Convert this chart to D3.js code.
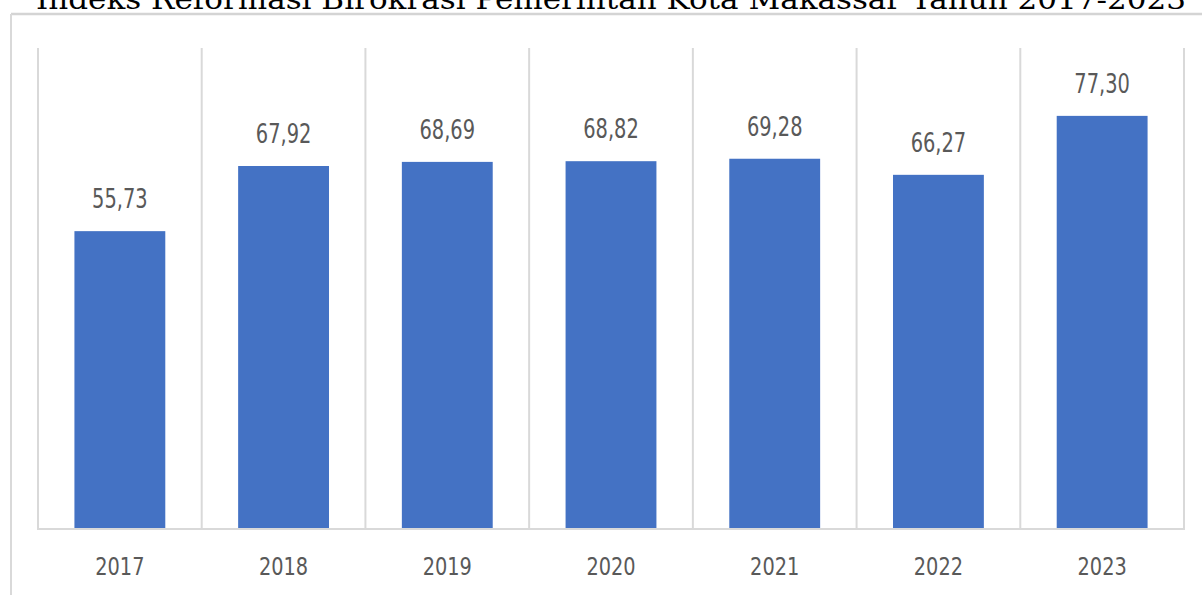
<!DOCTYPE html>
<html>
<head>
<meta charset="utf-8">
<script src="https://cdn.jsdelivr.net/npm/d3@7"></script>
<style>
  html, body { margin: 0; padding: 0; background: #ffffff; }
  svg { display: block; }
</style>
</head>
<body>
<svg id="chart" width="1202" height="595"></svg>
<script>
const title = "Indeks Reformasi Birokrasi Pemerintah Kota Makassar Tahun 2017-2023";
const years = ["2017", "2018", "2019", "2020", "2021", "2022", "2023"];
const values = [55.73, 67.92, 68.69, 68.82, 69.28, 66.27, 77.30];
const yDomain = [0, 90];

const svg = d3.select("#chart");
const W = 1202, H = 595;
const plot = { left: 38, right: 1184, top: 48, bottom: 529 };

// outer frame
svg.append("line").attr("x1", 11).attr("x2", W).attr("y1", 14).attr("y2", 14)
  .attr("stroke", "#d4d4d4").attr("stroke-width", 2.5);
svg.append("line").attr("x1", 11).attr("x2", 11).attr("y1", 14).attr("y2", H)
  .attr("stroke", "#d9d9d9").attr("stroke-width", 2);

// title (clipped at top as in the reference)
svg.append("text")
  .attr("x", 36).attr("y", 9)
  .attr("font-family", "'DejaVu Serif', 'Liberation Serif', serif")
  .attr("font-size", 27)
  .attr("fill", "#000")
  .attr("textLength", 1150).attr("lengthAdjust", "spacingAndGlyphs")
  .text(title);

const x = d3.scaleBand().domain(years).range([plot.left, plot.right])
  .paddingInner(0.445).paddingOuter(0.2225);
const y = d3.scaleLinear().domain(yDomain).range([plot.bottom, plot.top]);

// vertical category boundary gridlines
const bounds = d3.range(years.length + 1).map(i => plot.left + i * (plot.right - plot.left) / years.length);
svg.append("g").selectAll("line").data(bounds).join("line")
  .attr("x1", d => d).attr("x2", d => d)
  .attr("y1", y(yDomain[1])).attr("y2", y(0))
  .attr("stroke", "#d9d9d9").attr("stroke-width", 2);

// baseline
svg.append("line").attr("x1", plot.left - 1).attr("x2", plot.right + 1)
  .attr("y1", y(0)).attr("y2", y(0))
  .attr("stroke", "#d9d9d9").attr("stroke-width", 2);

// bars
svg.append("g").selectAll("rect").data(values).join("rect")
  .attr("x", (d, i) => x(years[i]))
  .attr("width", x.bandwidth())
  .attr("y", d => y(d))
  .attr("height", d => y(0) - y(d) - 1)
  .attr("fill", "#4472c4");

const fmt = d => d.toFixed(2).replace(".", ",");
const labelFont = "'Liberation Sans Narrow', 'DejaVu Sans Condensed', 'Roboto', sans-serif";

function condense(sel, k) {
  sel.each(function () {
    const len = this.getComputedTextLength();
    d3.select(this).attr("textLength", len * k).attr("lengthAdjust", "spacingAndGlyphs");
  });
}

// value labels
svg.append("g").selectAll("text").data(values).join("text")
  .attr("x", (d, i) => x(years[i]) + x.bandwidth() / 2)
  .attr("y", d => y(d) - 23)
  .attr("text-anchor", "middle")
  .attr("font-family", labelFont)
  .attr("font-size", 26)
  .attr("fill", "#595959")
  .text(fmt)
  .call(condense, 0.83);

// x axis labels
const xAxis = d3.axisBottom(x).tickSize(0).tickPadding(0);
const gx = svg.append("g").attr("transform", `translate(0,${y(0)})`).call(xAxis);
gx.select(".domain").remove();
gx.selectAll("text")
  .attr("y", 46).attr("dy", 0)
  .attr("font-family", labelFont)
  .attr("font-size", 25)
  .attr("fill", "#595959")
  .call(condense, 0.86);
</script>
</body>
</html>
